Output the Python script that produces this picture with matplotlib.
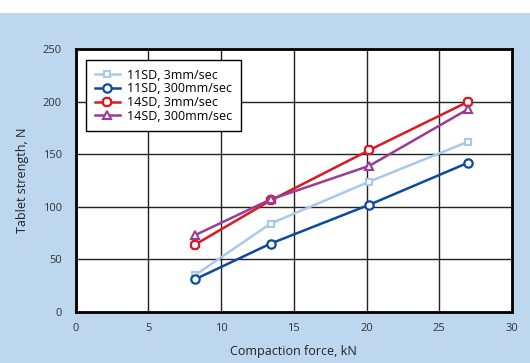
import matplotlib.pyplot as plt
from matplotlib.patches import Rectangle

plt.rcParams['font.family'] = ['Open Sans', 'DejaVu Sans']

force = [8.2, 13.4, 20.2, 27.0]
sd11_3 = [35, 84, 124, 162]
sd11_300 = [31, 65, 102, 142]
sd14_3 = [64, 106, 154, 200]
sd14_300 = [73, 107, 139, 193]

labels = ['11SD, 3mm/sec', '11SD, 300mm/sec', '14SD, 3mm/sec', '14SD, 300mm/sec']

bg = '#bdd7ef'
fig = plt.figure(figsize=(5.3, 3.63), dpi=100, facecolor=bg)
# white strip along the top
fig.patches.append(Rectangle((0, 1 - 13/363), 1, 13/363, transform=fig.transFigure,
                             facecolor='white', edgecolor='none', zorder=0))

ax = fig.add_axes([0.1428, 0.1405, 0.966 - 0.1428, 0.865 - 0.1405])
ax.set_facecolor('white')

ax.plot(force, sd11_3, color='#a8c8ec', lw=1.8, marker='s', ms=4.5,
        mfc='white', mec='#a8c8ec', mew=1.5, label=labels[0])
ax.plot(force, sd11_300, color='#0b4a9e', lw=1.8, marker='o', ms=6,
        mfc='white', mec='#0b4a9e', mew=1.6, label=labels[1])
ax.plot(force, sd14_3, color='#e0171f', lw=1.8, marker='8', ms=7,
        mfc='white', mec='#e0171f', mew=1.6, label=labels[2])
ax.plot(force, sd14_300, color='#9c3b97', lw=1.8, marker='^', ms=6,
        mfc='white', mec='#9c3b97', mew=1.5, label=labels[3])

ax.set_xlim(0, 30)
ax.set_ylim(0, 250)
ax.set_xticks(range(0, 31, 5))
ax.set_yticks(range(0, 251, 50))
ax.grid(True, color='#222222', lw=1.0)
ax.set_axisbelow(True)
for s in ax.spines.values():
    s.set_linewidth(2)
    s.set_color('black')
ax.tick_params(length=0, labelsize=8, labelcolor='#333333')
ax.tick_params(axis='x', pad=8)
ax.tick_params(axis='y', pad=10)

ax.set_xlabel('Compaction force, kN', fontsize=9, color='#222222', labelpad=8)
ax.set_ylabel('Tablet strength, N', fontsize=9, color='#222222', labelpad=10)

leg = ax.legend(loc='upper left', bbox_to_anchor=(0.024, 0.958), borderaxespad=0,
                fontsize=9, frameon=True, fancybox=False, edgecolor='black',
                framealpha=1, handlelength=2.0, labelspacing=0.05, borderpad=0.7,
                handletextpad=0.6)
leg.get_frame().set_linewidth(1.0)

fig.savefig('out.png', dpi=100, facecolor=bg)
